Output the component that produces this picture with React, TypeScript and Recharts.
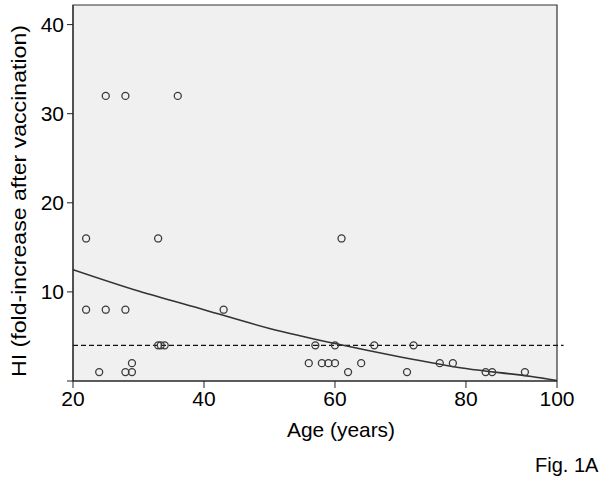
import React from "react";
import {
  ComposedChart,
  XAxis,
  YAxis,
  Scatter,
  Line,
  ReferenceArea,
  ReferenceLine,
} from "recharts";

// observed HI fold-increase per subject (age in years, fold-increase)
const ages = [
  22, 22, 24, 25, 25, 28, 28, 28, 29, 29, 33, 33, 33.4, 34, 36, 43, 56, 57, 58,
  59, 60, 60, 61, 62, 64, 66, 71, 72, 76, 78, 83, 84, 89,
];
const folds = [
  16, 8, 1, 32, 8, 32, 8, 1, 2, 1, 16, 4, 4, 4, 32, 8, 2, 4, 2, 2, 4, 2, 16, 1,
  2, 4, 1, 4, 2, 2, 1, 1, 1,
];

// fitted curve
const fitAges = [20, 30, 40, 50, 60, 70, 80, 90, 93.9];
const fitValues = [12.5, 10.1, 8.0, 5.9, 4.2, 2.7, 1.4, 0.5, 0.05];

const threshold = 4;

const xTicks = [20, 40, 60, 80, 93.9];
const xTickLabels = ["20", "40", "60", "80", "100"];
const yTicks = [0, 10, 20, 30, 40];
const yTickLabels = ["", "10", "20", "30", "40"];

const xMin = 20;
const xMax = 93.9;
const yMax = 42.2;

const points = ages.map((a, i) => ({ x: a, y: folds[i] }));
const fit = fitAges.map((a, i) => ({ x: a, y: fitValues[i] }));

const font = "'Liberation Sans', Arial, sans-serif";

const OpenCircle = (props: any) => (
  <circle
    cx={props.cx}
    cy={props.cy}
    r={3.5}
    fill="none"
    stroke="#3a3a3a"
    strokeWidth={1.3}
  />
);

const YTitle = () => (
  <text
    x={18}
    y={201}
    transform="rotate(-90 18 201)"
    textAnchor="middle"
    dominantBaseline="central"
    fontSize={21}
    fontFamily={font}
    fill="#000"
    textLength={352}
    lengthAdjust="spacingAndGlyphs"
  >
    HI (fold-increase after vaccination)
  </text>
);

const XTitle = () => (
  <text
    x={341}
    y={429}
    textAnchor="middle"
    dominantBaseline="central"
    fontSize={21}
    fontFamily={font}
    fill="#000"
    textLength={108}
    lengthAdjust="spacingAndGlyphs"
  >
    Age (years)
  </text>
);

export default function App() {
  return (
    <div
      style={{
        position: "absolute",
        left: 0,
        top: 0,
        width: 604,
        height: 482,
        background: "#fff",
        fontFamily: font,
      }}
    >
      <ComposedChart
        width={604}
        height={482}
        margin={{ top: 5, right: 47, bottom: 0, left: 0 }}
      >
        <XAxis
          type="number"
          dataKey="x"
          domain={[xMin, xMax]}
          ticks={xTicks}
          tickFormatter={(v: number) => xTickLabels[xTicks.indexOf(v)]}
          allowDataOverflow
          height={101}
          tickSize={7}
          tickMargin={3}
          stroke="#222"
          tick={{ fill: "#000", fontSize: 21, fontFamily: font }}
          label={{ content: XTitle }}
        />
        <YAxis
          type="number"
          dataKey="y"
          domain={[0, yMax]}
          ticks={yTicks}
          tickFormatter={(v: number) => yTickLabels[yTicks.indexOf(v)]}
          allowDataOverflow
          width={73}
          tickSize={6}
          tickMargin={3}
          stroke="#222"
          tick={{ fill: "#000", fontSize: 21, fontFamily: font }}
          label={{ content: YTitle }}
        />
        <ReferenceArea
          x1={xMin}
          x2={xMax}
          y1={0}
          y2={yMax}
          fill="#f0f0f0"
          fillOpacity={1}
          stroke="#333"
          strokeWidth={1.2}
        />
        <ReferenceLine
          segment={[
            { x: xMin, y: threshold },
            { x: 94.9, y: threshold },
          ]}
          ifOverflow="visible"
          stroke="#111"
          strokeWidth={1.4}
          strokeDasharray="5 3"
        />
        <Line
          data={fit}
          dataKey="y"
          type="monotone"
          stroke="#333"
          strokeWidth={1.6}
          dot={false}
          activeDot={false}
          isAnimationActive={false}
        />
        <Scatter
          data={points}
          dataKey="y"
          shape={OpenCircle}
          isAnimationActive={false}
        />
      </ComposedChart>
      <div
        style={{
          position: "absolute",
          left: 535,
          top: 454,
          fontSize: 20,
          color: "#000",
        }}
      >
        Fig. 1A
      </div>
    </div>
  );
}
